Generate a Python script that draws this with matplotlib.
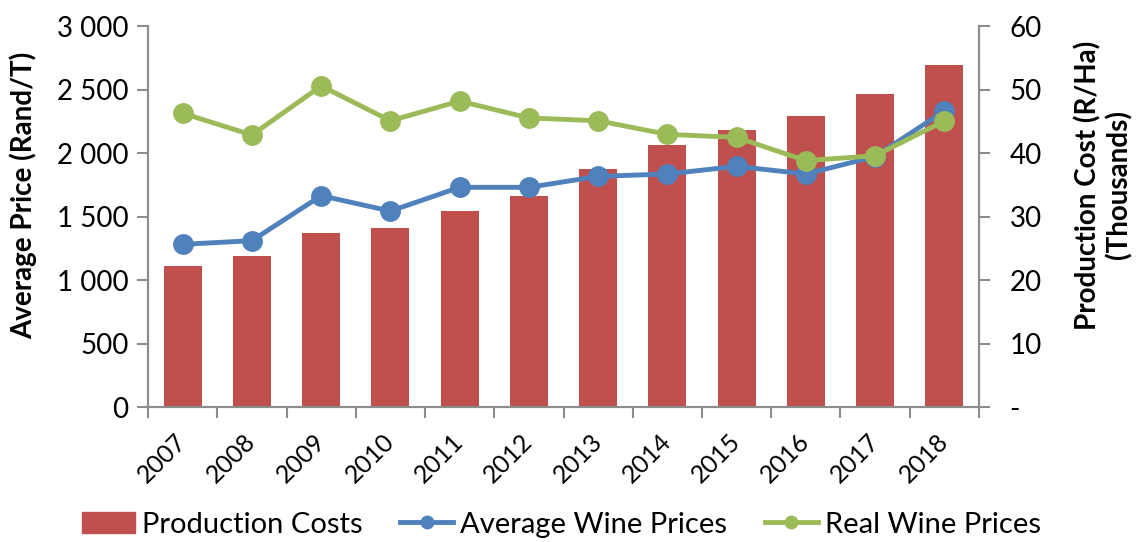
import matplotlib.pyplot as plt
import matplotlib.ticker as mticker
from matplotlib.lines import Line2D
from matplotlib.patches import Patch

years = ["2007", "2008", "2009", "2010", "2011", "2012",
         "2013", "2014", "2015", "2016", "2017", "2018"]
production_costs = [22.2, 23.8, 27.4, 28.2, 30.8, 33.2, 37.5, 41.3, 43.6, 45.9, 49.3, 53.9]
avg_prices = [1281, 1310, 1664, 1543, 1730, 1730, 1816, 1835, 1895, 1835, 1972, 2331]
real_prices = [2313, 2142, 2528, 2254, 2409, 2276, 2254, 2147, 2123, 1940, 1979, 2252]

RED = "#C0504D"
BLUE = "#4F81BD"
GREEN = "#9BBB59"
GREY = "#8C8C8C"

plt.rcParams["font.family"] = ["Lato", "DejaVu Sans"]

fig = plt.figure(figsize=(11.39, 5.42), dpi=100)
ax = fig.add_axes([0.130, 0.249, 0.7295, 0.703])
ax2 = ax.twinx()

x = list(range(len(years)))
ax2.bar(x, production_costs, width=0.55, color=RED, zorder=2)

ax.plot(x, avg_prices, color=BLUE, lw=3.5, marker="o", markersize=14, zorder=3)
ax.plot(x, real_prices, color=GREEN, lw=3.5, marker="o", markersize=14, zorder=4)

# lines sit above the bars
ax.set_zorder(ax2.get_zorder() + 1)
ax.patch.set_visible(False)

ax.set_xlim(-0.5, len(years) - 0.5)
ax.set_ylim(0, 3000)
ax2.set_ylim(0, 60)

ax.set_yticks(range(0, 3001, 500))
ax.yaxis.set_major_formatter(mticker.FuncFormatter(lambda v, p: f"{int(v):,}".replace(",", " ")))
ax2.set_yticks(range(0, 61, 10))
ax2.yaxis.set_major_formatter(mticker.FuncFormatter(lambda v, p: "-" if v == 0 else f"{int(v)}"))

ax.set_xticks(x)
ax.set_xticklabels(years, rotation=45, ha="right", va="center",
                   rotation_mode="anchor", fontsize=18)
ax.set_xticks([i - 0.5 for i in range(len(years) + 1)], minor=True)
ax.tick_params(axis="x", which="major", length=0, pad=22)
ax.tick_params(axis="x", which="minor", length=8, color=GREY, width=1.5)
ax.tick_params(axis="y", length=8, color=GREY, width=1.5, labelsize=20, pad=6)
ax2.tick_params(axis="y", length=8, color=GREY, width=1.5, labelsize=20, pad=14)

for a in (ax, ax2):
    a.spines["top"].set_visible(False)
    for s in ("left", "right", "bottom"):
        a.spines[s].set_color(GREY)
        a.spines[s].set_linewidth(1.5)

ax.set_ylabel("Average Price (Rand/T)", fontsize=20, fontweight="bold")
ax.yaxis.set_label_coords(-0.150, 0.556)
ax.yaxis.label.set_va("center")
ax2.set_ylabel("Production Cost (R/Ha)\n(Thousands)", fontsize=20, fontweight="bold",
               linespacing=1.15)
ax2.yaxis.set_label_coords(1.150, 0.583)
ax2.yaxis.label.set_va("center")

handles = [
    Patch(color=RED),
    Line2D([0], [0], color=BLUE, lw=3.5, marker="o", markersize=9),
    Line2D([0], [0], color=GREEN, lw=3.5, marker="o", markersize=9),
]
labels = ["Production Costs", "Average Wine Prices", "Real Wine Prices"]
fig.legend(handles, labels, loc="center", bbox_to_anchor=(0.493, 0.032), ncol=3,
           frameon=False, fontsize=21, handlelength=1.8, columnspacing=1.3, handletextpad=0.25)

fig.savefig("out.png", dpi=100)
